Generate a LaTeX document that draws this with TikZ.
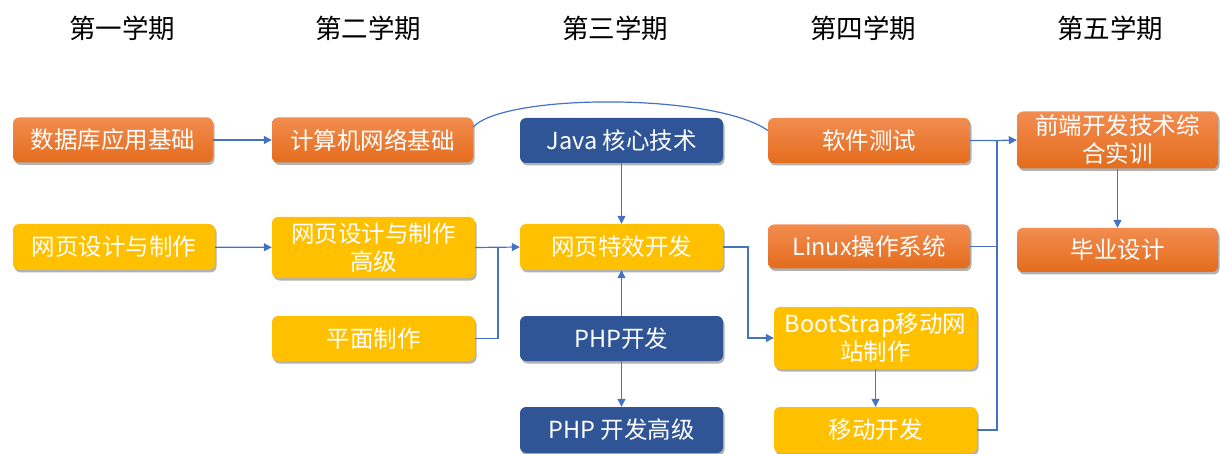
\documentclass[tikz,border=0pt]{standalone}
\usepackage{fontspec}
\setmainfont{Noto Sans CJK SC}
\usepackage{tikz}
\usetikzlibrary{arrows.meta,shadows}
\definecolor{linkblue}{RGB}{68,114,196}
\definecolor{boxblue}{RGB}{47,85,151}
\definecolor{boxyellow}{RGB}{255,192,0}
\definecolor{orangetop}{RGB}{242,140,80}
\definecolor{orangebot}{RGB}{228,108,28}
\tikzset{
    course/.style={rounded corners=6pt,minimum width=202pt,minimum height=45pt,align=center,
        text=white,font=\fontsize{23.5}{28}\selectfont,inner sep=2pt,
        drop shadow={shadow xshift=1.5pt,shadow yshift=-2.5pt,opacity=.3,fill=black}},
    orangebox/.style={course,top color=orangetop,bottom color=orangebot},
    yellowbox/.style={course,fill=boxyellow},
    bluebox/.style={course,fill=boxblue},
    term/.style={font=\fontsize{26.5}{30}\selectfont},
    link/.style={draw=linkblue,line width=1.2pt},
    arr/.style={link,-{Triangle[width=8pt,length=8pt]}}
}
\begin{document}
\begin{tikzpicture}[x=1pt,y=-1pt]
        \useasboundingbox (0,0) rectangle (1220,454);
        \node[term] (term1) at (122,28) {第一学期};
        \node[term] (term2) at (368,28) {第二学期};
        \node[term] (term3) at (615,28) {第三学期};
        \node[term] (term4) at (863,28) {第四学期};
        \node[term] (term5) at (1110,28) {第五学期};
        \node[orangebox,minimum width=200pt] (shujuku) at (113,140) {数据库应用基础};
        \node[yellowbox,minimum height=46pt] (wangye) at (114,247) {网页设计与制作};
        \node[orangebox,minimum width=201pt] (jisuanji) at (372.5,140) {计算机网络基础};
        \node[yellowbox,minimum width=203pt,minimum height=61pt] (wangyegj) at (373.5,247.5) {网页设计与制作\\高级};
        \node[yellowbox,minimum width=203pt] (pingmian) at (373.5,338.5) {平面制作};
        \node[bluebox,minimum width=203pt] (java) at (621.5,140.5) {Java 核心技术};
        \node[yellowbox,minimum width=203pt,minimum height=46pt] (texiao) at (621.5,247) {网页特效开发};
        \node[bluebox,minimum width=203pt] (php) at (621.5,338.5) {PHP开发};
        \node[bluebox,minimum width=203pt,minimum height=46pt] (phpgj) at (621.5,430) {PHP 开发高级};
        \node[orangebox] (ruanjian) at (869,140.5) {软件测试};
        \node[orangebox,minimum height=44pt] (linux) at (869,246.5) {Linux操作系统};
        \node[yellowbox,minimum width=203pt,minimum height=62pt] (bootstrap) at (875.5,338) {BootStrap移动网\\站制作};
        \node[yellowbox,minimum width=203pt,minimum height=46pt] (yidong) at (875.5,430) {移动开发};
        \node[orangebox,minimum width=201pt,minimum height=57pt] (qianduan) at (1117.5,140) {前端开发技术综\\合实训};
        \node[orangebox,minimum width=201pt,minimum height=44pt] (biye) at (1117.5,250) {毕业设计};
        \coordinate (join1) at (498,247);
        \coordinate (join2) at (748,247);
        \coordinate (join3) at (997,140.5);
        \draw[arr] (shujuku) -- (jisuanji);
        \draw[arr] (wangye) -- (wangyegj);
        \draw[link] ([yshift=13pt]jisuanji.east) .. controls (505,93) and (715,93) .. ([yshift=10pt]ruanjian.west);
        \draw[arr] (wangyegj.east) -- (texiao.west);
        \draw[link] (pingmian.east) -| (join1);
        \draw[arr] (java) -- (texiao);
        \draw[arr] (php) -- (texiao);
        \draw[arr] (php) -- (phpgj);
        \draw[arr] (texiao.east) -- (join2) |- (bootstrap.west);
        \draw[arr] (bootstrap) -- (yidong);
        \draw[arr] (ruanjian.east) -- (join3) -- (qianduan.west);
        \draw[link] (linux.east) -| (join3);
        \draw[link] (yidong.east) -| (join3);
        \draw[arr] (qianduan) -- (biye);
    \end{tikzpicture}
\end{document}
